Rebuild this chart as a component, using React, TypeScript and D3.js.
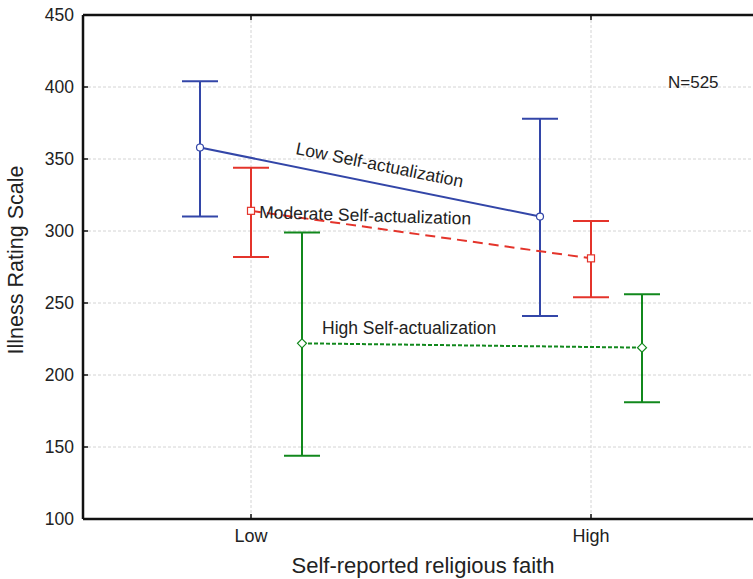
import React from "react";
import * as d3 from "d3";

const categories = ["Low", "High"];
const yTicks = [100, 150, 200, 250, 300, 350, 400, 450];

const seriesNames = ["Low Self-actualization", "Moderate Self-actualization", "High Self-actualization"];
const means = [
  [358, 310],
  [314, 281],
  [222, 219],
];
const upper = [
  [404, 378],
  [344, 307],
  [299, 256],
];
const lower = [
  [310, 241],
  [282, 254],
  [144, 181],
];
const colors = ["#3346a8", "#e4342b", "#11881c"];
const dashes = ["", "10,6", "4,2"];

const W = 753;
const H = 579;
const margin = { left: 83, right: 0, top: 15, bottom: 60 };
const font = "'Liberation Sans', Arial, sans-serif";

export default function App() {
  const x = d3
    .scalePoint<string>()
    .domain(categories)
    .range([251, 591]);
  const y = d3.scaleLinear().domain([100, 450]).range([H - margin.bottom, margin.top]);
  const offset = [-51, 0, 51];
  const cap = 18;

  const px = (s: number, i: number) => (x(categories[i]) as number) + offset[s];

  return (
    <svg width={W} height={H} style={{ position: "absolute", left: 0, top: 0, background: "#fff" }} fontFamily={font}>
      {/* grid */}
      {yTicks.slice(1, -1).map((t) => (
        <line key={t} x1={margin.left} x2={W} y1={y(t)} y2={y(t)} stroke="#d4d4d4" strokeDasharray="3,2" />
      ))}
      {categories.map((c) => (
        <line key={c} x1={x(c)} x2={x(c)} y1={margin.top} y2={y(100)} stroke="#d4d4d4" strokeDasharray="3,2" />
      ))}

      {/* series */}
      {seriesNames.map((name, s) => {
        const pts = means[s].map((m, i) => [px(s, i), y(m)] as [number, number]);
        const path = d3.line()(pts);
        return (
          <g key={name} stroke={colors[s]} strokeWidth={2} fill="none">
            {means[s].map((_, i) => (
              <g key={i}>
                <line x1={px(s, i)} x2={px(s, i)} y1={y(upper[s][i])} y2={y(lower[s][i])} />
                <line x1={px(s, i) - cap} x2={px(s, i) + cap} y1={y(upper[s][i])} y2={y(upper[s][i])} />
                <line x1={px(s, i) - cap} x2={px(s, i) + cap} y1={y(lower[s][i])} y2={y(lower[s][i])} />
              </g>
            ))}
            <path d={path ?? ""} strokeDasharray={dashes[s]} />
            {pts.map(([cx, cy], i) =>
              s === 0 ? (
                <circle key={i} cx={cx} cy={cy} r={3.5} fill="#fff" strokeWidth={1.2} />
              ) : s === 1 ? (
                <rect key={i} x={cx - 3.5} y={cy - 3.5} width={7} height={7} fill="#fff" strokeWidth={1.2} />
              ) : (
                <path key={i} d={`M${cx},${cy - 4.5}L${cx + 4.5},${cy}L${cx},${cy + 4.5}L${cx - 4.5},${cy}Z`} fill="#fff" strokeWidth={1.2} />
              )
            )}
          </g>
        );
      })}

      {/* series labels */}
      <text x={0} y={0} fontSize={17.5} fill="#222" transform={`translate(295,154) rotate(11.3)`}>
        {seriesNames[0]}
      </text>
      <text x={0} y={0} fontSize={17.5} fill="#222" transform={`translate(259,218) rotate(1.8)`}>
        {seriesNames[1]}
      </text>
      <text x={322} y={334} fontSize={17.5} fill="#222">
        {seriesNames[2]}
      </text>
      <text x={668} y={88} fontSize={17} fill="#222">
        N=525
      </text>

      {/* axes */}
      <line x1={margin.left} x2={W} y1={margin.top} y2={margin.top} stroke="#111" strokeWidth={2.5} />
      <line x1={margin.left} x2={W} y1={y(100)} y2={y(100)} stroke="#111" strokeWidth={2.5} />
      <line x1={margin.left} x2={margin.left} y1={margin.top} y2={y(100)} stroke="#111" strokeWidth={2.5} />
      {yTicks.map((t) => (
        <g key={t}>
          <line x1={margin.left} x2={margin.left + 5} y1={y(t)} y2={y(t)} stroke="#111" strokeWidth={1.5} />
          <text x={74} y={y(t)} dy="0.35em" textAnchor="end" fontSize={17.5} fill="#222">
            {t}
          </text>
        </g>
      ))}
      {categories.map((c) => (
        <g key={c}>
          <line x1={x(c)} x2={x(c)} y1={y(100)} y2={y(100) - 5} stroke="#111" strokeWidth={1.5} />
          <line x1={x(c)} x2={x(c)} y1={margin.top} y2={margin.top + 5} stroke="#111" strokeWidth={1.5} />
          <text x={x(c)} y={542} textAnchor="middle" fontSize={18} fill="#222">
            {c}
          </text>
        </g>
      ))}
      <text x={423} y={573} textAnchor="middle" fontSize={22} fill="#222">
        Self-reported religious faith
      </text>
      <text transform={`translate(23,260) rotate(-90)`} textAnchor="middle" fontSize={21.5} fill="#222">
        Illness Rating Scale
      </text>
    </svg>
  );
}
